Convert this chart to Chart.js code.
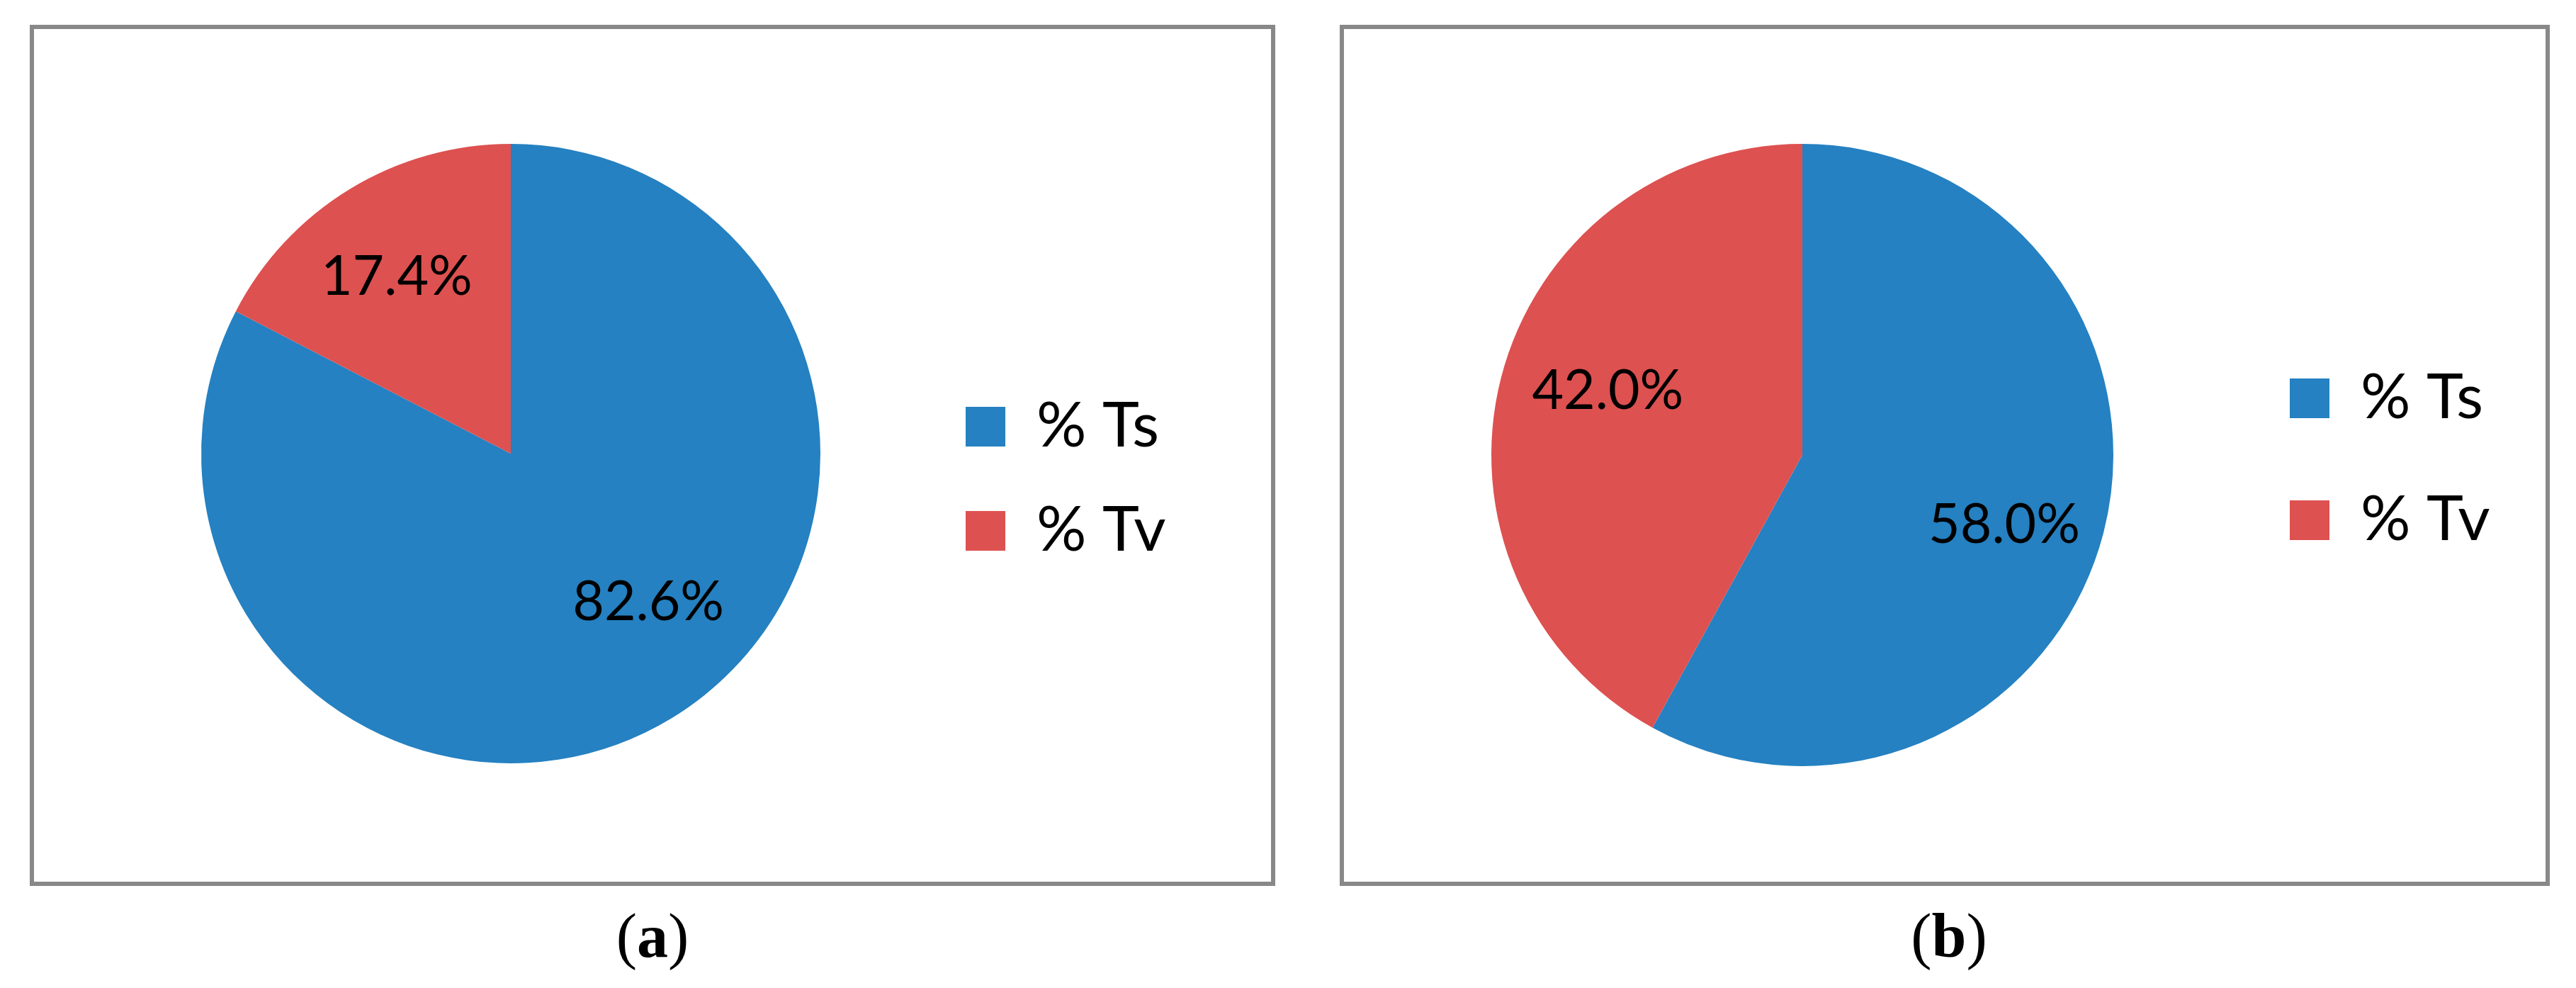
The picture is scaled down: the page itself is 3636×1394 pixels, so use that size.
<!DOCTYPE html>
<html>
<head>
<meta charset="utf-8">
<script src="https://cdn.jsdelivr.net/npm/chart.js@4.4.1/dist/chart.umd.min.js"></script>
<style>
  html, body { margin: 0; padding: 0; background: #fff; }
  body { width: 3636px; height: 1394px; position: relative; overflow: hidden; }
  .panel { position: absolute; box-sizing: border-box; border: 6px solid #888888; background: #fff; }
  .panel canvas { display: block; }
  .caption { position: absolute; width: 400px; text-align: center; font-family: "Liberation Serif", serif;
             font-size: 88px; line-height: 88px; color: #000; }
  .caption b { font-weight: bold; }
</style>
</head>
<body>
<div class="panel" id="panelA" style="left:42px; top:35px; width:1758px; height:1215px;">
  <canvas id="chartA" width="1746" height="1203"></canvas>
</div>
<div class="panel" id="panelB" style="left:1891px; top:35px; width:1708px; height:1215px;">
  <canvas id="chartB" width="1696" height="1203"></canvas>
</div>
<div class="caption" style="left:721px; top:1277px;">(<b>a</b>)</div>
<div class="caption" style="left:2551px; top:1277px;">(<b>b</b>)</div>

<script>
const categories = ["% Ts", "% Tv"];
const valuesA = [82.6, 17.4];
const valuesB = [58.0, 42.0];
const sliceColors = ["#2581c1", "#dd5150"];

const legendFont = { family: "Lato", size: 88 };
const legendBox = 56;

// percentage labels drawn inside the slices
const pctLabels = {
  id: "pctLabels",
  afterDatasetsDraw(chart, args, opts) {
    const ctx = chart.ctx;
    const meta = chart.getDatasetMeta(0);
    const values = chart.data.datasets[0].data;
    ctx.save();
    ctx.font = opts.size + "px " + opts.family;
    ctx.fillStyle = "#000";
    ctx.textAlign = "center";
    ctx.textBaseline = "alphabetic";
    meta.data.forEach((arc, i) => {
      const p = arc.getProps(["x", "y", "startAngle", "endAngle", "outerRadius"], true);
      const mid = (p.startAngle + p.endAngle) / 2 + (opts.angleShift[i] || 0) * Math.PI / 180;
      const r = p.outerRadius * opts.radius[i];
      const tx = p.x + Math.cos(mid) * r;
      const ty = p.y + Math.sin(mid) * r;
      ctx.fillText(values[i].toFixed(1) + "%", tx, ty + opts.size * 0.36);
    });
    ctx.restore();
  }
};

// width Chart.js will give a right-hand legend with one column
function legendWidth(canvas, pad) {
  const ctx = canvas.getContext("2d");
  ctx.font = legendFont.size + "px " + legendFont.family;
  const textW = Math.max(...categories.map((c) => ctx.measureText(c).width));
  return pad + legendBox + legendFont.size / 2 + textW + 10;
}

// cx, cy, r: pie centre and radius in canvas px; boxX: left of the legend squares
function makePie(canvasId, values, cx, cy, r, boxX, legendPadding, titleGap, labelRadius, labelShift) {
  const canvas = document.getElementById(canvasId);
  const legendLeft = boxX - legendPadding;
  const lw = legendWidth(canvas, legendPadding);
  const padding = {
    left: 2 * cx - legendLeft,
    right: canvas.width - legendLeft - lw,
    top: cy - r,
    bottom: canvas.height - cy - r
  };
  return new Chart(canvas, {
    type: "pie",
    data: {
      labels: categories,
      datasets: [{
        data: values,
        backgroundColor: sliceColors,
        borderWidth: 0
      }]
    },
    options: {
      responsive: false,
      animation: false,
      layout: { padding: padding },
      plugins: {
        tooltip: { enabled: false },
        legend: {
          position: "right",
          title: { display: true, text: "", font: { size: 10 }, padding: { top: titleGap, bottom: 0 } },
          labels: {
            boxWidth: legendBox,
            boxHeight: legendBox,
            padding: legendPadding,
            color: "#000",
            font: legendFont
          }
        },
        pctLabels: { family: "Lato", size: 77, radius: labelRadius, angleShift: labelShift }
      }
    },
    plugins: [pctLabels]
  });
}

makePie("chartA", valuesA, 673, 599, 437, 1315, 59, 59, [0.65, 0.684], [-11.8, -1.3]);
makePie("chartB", valuesB, 647, 601, 439, 1335, 84, 0, [0.685, 0.66], [4.2, 4.2]);
</script>
</body>
</html>
